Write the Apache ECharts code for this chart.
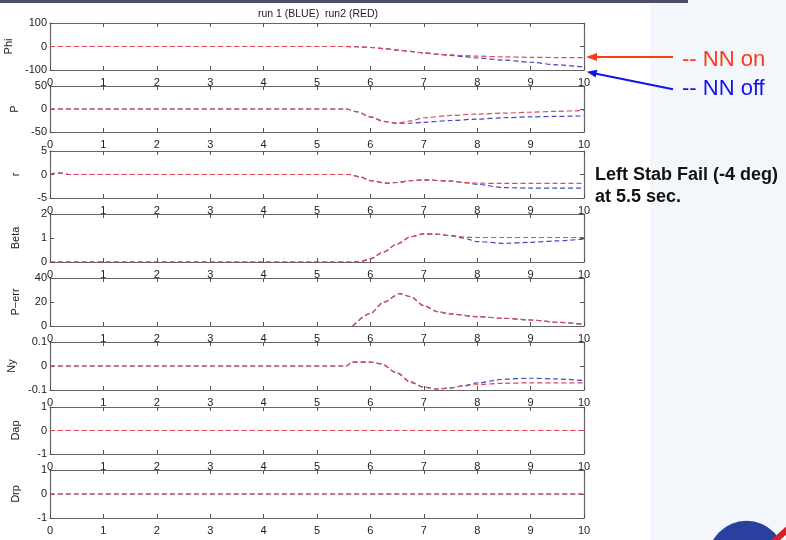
<!DOCTYPE html>
<html><head><meta charset="utf-8">
<script src="https://cdn.jsdelivr.net/npm/echarts@6/dist/echarts.min.js"></script>
<style>html,body{margin:0;padding:0;background:#fff}#c{width:786px;height:540px}</style>
</head><body><div id="c"></div>
<script>
// ---------- data ----------
const panelNames = ['Phi', 'P', 'r', 'Beta', 'P\u2212err', 'Ny', 'Dap', 'Drp'];
const yMins = [-100, -50, -5, 0, 0, -0.1, -1, -1];
const yMaxs = [100, 50, 5, 2, 40, 0.1, 1, 1];
const yIntervals = [100, 50, 5, 1, 20, 0.1, 1, 1];
const xMin = 0, xMax = 10, xInterval = 1;

const tPhi = [0, 5.5, 5.75, 6, 6.25, 6.5, 6.75, 7, 7.25, 7.5, 7.75, 8, 8.5, 9, 9.5, 10];
const phiBlue = [0, 0, -1, -4, -9, -15, -21, -27, -33, -38, -43, -49, -58, -67, -78, -88];
const phiRed = [0, 0, -1, -4, -9, -15, -21, -27, -32, -36, -39, -41, -44, -46, -47, -47];

const tP = [0, 5.55, 5.75, 6, 6.25, 6.5, 6.75, 7, 7.5, 8, 8.5, 9, 9.5, 10];
const pBlue = [0, 0, -6, -17, -27, -31, -31, -29, -25, -22, -19, -17, -16, -15];
const pRed = [0, 0, -6, -17, -27, -31, -26, -19, -14, -11, -9, -7, -5, -3];

const tR = [0, 0.2, 0.35, 5.6, 5.8, 6, 6.3, 6.5, 6.75, 7, 7.5, 7.8, 8, 8.5, 9, 9.5, 10];
const rBlue = [0.2, 0.3, 0, 0, -0.5, -1.3, -1.85, -1.7, -1.3, -1.15, -1.4, -1.8, -2.1, -2.8, -2.9, -2.9, -2.9];
const rRed = [0.2, 0.3, 0, 0, -0.5, -1.3, -1.85, -1.7, -1.3, -1.15, -1.4, -1.7, -1.85, -1.9, -1.9, -1.9, -1.9];

const tBeta = [0, 5.7, 5.85, 6, 6.25, 6.5, 6.75, 7, 7.25, 7.5, 7.75, 8, 8.5, 9, 9.5, 10];
const betaBlue = [0, 0, 0.04, 0.14, 0.42, 0.75, 1.05, 1.17, 1.16, 1.1, 0.99, 0.85, 0.78, 0.82, 0.88, 0.96];
const betaRed = [0, 0, 0.04, 0.14, 0.42, 0.75, 1.05, 1.17, 1.16, 1.1, 1.04, 1.02, 1.02, 1.02, 1.02, 1.02];

const tPerr = [5.67, 6, 6.25, 6.55, 6.75, 7, 7.25, 7.5, 8, 8.5, 9, 9.5, 10];
const perrBlue = [0, 10.5, 20, 27, 24.5, 17, 12, 10, 7.8, 6.4, 5, 3.1, 1.4];
const perrRed = [0, 10.5, 20, 27, 24.5, 17, 12, 10, 7.8, 6.4, 5, 3.1, 1.4];

const tNy = [0, 5.55, 5.65, 6, 6.2, 6.5, 6.75, 7, 7.25, 7.5, 7.75, 8, 8.5, 9, 9.5, 10];
const nyBlue = [0, 0, 0.016, 0.016, 0.009, -0.028, -0.066, -0.088, -0.096, -0.092, -0.082, -0.07, -0.055, -0.051, -0.054, -0.061];
const nyRed = [0, 0, 0.016, 0.016, 0.009, -0.03, -0.068, -0.089, -0.096, -0.09, -0.083, -0.077, -0.072, -0.07, -0.07, -0.07];

const tDap = [0, 10];
const dapBlue = [0, 0];
const dapRed = [0, 0];
const tDrp = [0, 10];
const drpBlue = [0, 0];
const drpRed = [0, 0];

const titleText = 'run 1 (BLUE)  run2 (RED)';
const noteOn = '-- NN on';
const noteOff = '-- NN off';
const noteFail = ['Left Stab Fail (-4 deg)', 'at 5.5 sec.'];

// ---------- build ----------
const panels = [
  [tPhi, phiBlue, phiRed], [tP, pBlue, pRed], [tR, rBlue, rRed], [tBeta, betaBlue, betaRed],
  [tPerr, perrBlue, perrRed], [tNy, nyBlue, nyRed], [tDap, dapBlue, dapRed], [tDrp, drpBlue, drpRed]
];
const gTop = [23, 86, 151, 214, 278, 342, 407, 470];
const gH = [47, 46, 47, 48, 48, 48, 47, 48];
const FONT = 'Liberation Sans, Arial, sans-serif';
const BLUE = '#4646c4', RED = '#e0485a', FRAME = '#666666';

const zip = (t, v) => t.map((x, i) => [x, v[i]]);
const fmt = v => (Math.abs(v) < 1e-9 ? '0' : String(+v.toFixed(3)));

const grid = [], xAxis = [], yAxis = [], series = [];
panels.forEach((p, i) => {
  grid.push({ left: 50, right: 202, top: gTop[i], height: gH[i], show: false,
    containLabel: false, outerBoundsMode: 'none' });
  const axLine = { show: true, onZero: false, lineStyle: { color: FRAME, width: 1.2 } };
  const tick = { show: true, inside: true, length: 4, lineStyle: { color: '#555', width: 1 } };
  xAxis.push({ gridIndex: i, type: 'value', min: xMin, max: xMax, interval: xInterval, position: 'bottom',
    axisLine: axLine, axisTick: tick, splitLine: { show: false },
    axisLabel: { fontSize: 11, color: '#222', margin: 7, fontFamily: FONT } });
  xAxis.push({ gridIndex: i, type: 'value', min: xMin, max: xMax, interval: xInterval, position: 'top',
    axisLine: axLine, axisTick: tick, splitLine: { show: false }, axisLabel: { show: false } });
  yAxis.push({ gridIndex: i, type: 'value', min: yMins[i], max: yMaxs[i], interval: yIntervals[i], position: 'left',
    axisLine: axLine, axisTick: tick, splitLine: { show: false },
    axisLabel: { fontSize: 11, color: '#222', margin: 3, fontFamily: FONT, formatter: fmt },
    name: panelNames[i], nameLocation: 'middle', nameGap: 29, nameRotate: 90,
    nameTextStyle: { fontSize: 11, color: '#222', fontFamily: FONT } });
  yAxis.push({ gridIndex: i, type: 'value', min: yMins[i], max: yMaxs[i], interval: yIntervals[i], position: 'right',
    axisLine: axLine, axisTick: tick, splitLine: { show: false }, axisLabel: { show: false } });
  [[p[1], BLUE], [p[2], RED]].forEach(([vals, col]) => {
    series.push({ type: 'line', xAxisIndex: 2 * i, yAxisIndex: 2 * i, data: zip(p[0], vals),
      showSymbol: false, smooth: 0.3, smoothMonotone: 'x', silent: true, animation: false,
      lineStyle: { color: col, width: 1.2, type: [5, 3] } });
  });
});

const graphic = [
  { type: 'rect', shape: { x: 650, y: 0, width: 136, height: 540 }, style: { fill: '#f3f6fb' }, z: -1 },
  { type: 'rect', shape: { x: 0, y: 0, width: 688, height: 3 }, style: { fill: '#4a4e68' } },
  { type: 'text', x: 318, y: 14, style: { text: titleText, fontSize: 10.5, fontFamily: FONT, fill: '#222', textAlign: 'center', textVerticalAlign: 'middle' } },
  { type: 'line', shape: { x1: 673, y1: 57, x2: 595, y2: 57 }, style: { stroke: '#ff3a1a', lineWidth: 2 } },
  { type: 'polygon', shape: { points: [[586, 57], [597, 53], [597, 61]] }, style: { fill: '#ff3a1a' } },
  { type: 'line', shape: { x1: 673, y1: 89.3, x2: 595, y2: 73.4 }, style: { stroke: '#1414e6', lineWidth: 2 } },
  { type: 'polygon', shape: { points: [[586.7, 71.7], [597.3, 69.8], [595.7, 77.6]] }, style: { fill: '#1414e6' } },
  { type: 'text', x: 682, y: 71, style: { text: noteOn, fontSize: 22, fontFamily: FONT, fill: '#ff3a1a', textVerticalAlign: 'bottom' } },
  { type: 'text', x: 682, y: 99.5, style: { text: noteOff, fontSize: 22, fontFamily: FONT, fill: '#1414f0', textVerticalAlign: 'bottom' } },
  { type: 'text', x: 595, y: 184, style: { text: noteFail[0], fontSize: 18, fontWeight: 'bold', fontFamily: FONT, fill: '#111', textVerticalAlign: 'bottom' } },
  { type: 'text', x: 595, y: 206.5, style: { text: noteFail[1], fontSize: 18, fontWeight: 'bold', fontFamily: FONT, fill: '#111', textVerticalAlign: 'bottom' } },
  { type: 'circle', shape: { cx: 746.5, cy: 559.5, r: 38.7 }, style: { fill: '#2b3f9e' } },
  { type: 'line', shape: { x1: 770, y1: 545, x2: 790, y2: 527 }, style: { stroke: '#d8202a', lineWidth: 6 } }
];

const chart = echarts.init(document.getElementById('c'), null, { renderer: 'canvas' });
chart.setOption({ animation: false, backgroundColor: '#ffffff', grid, xAxis, yAxis, series, graphic });
</script></body></html>
